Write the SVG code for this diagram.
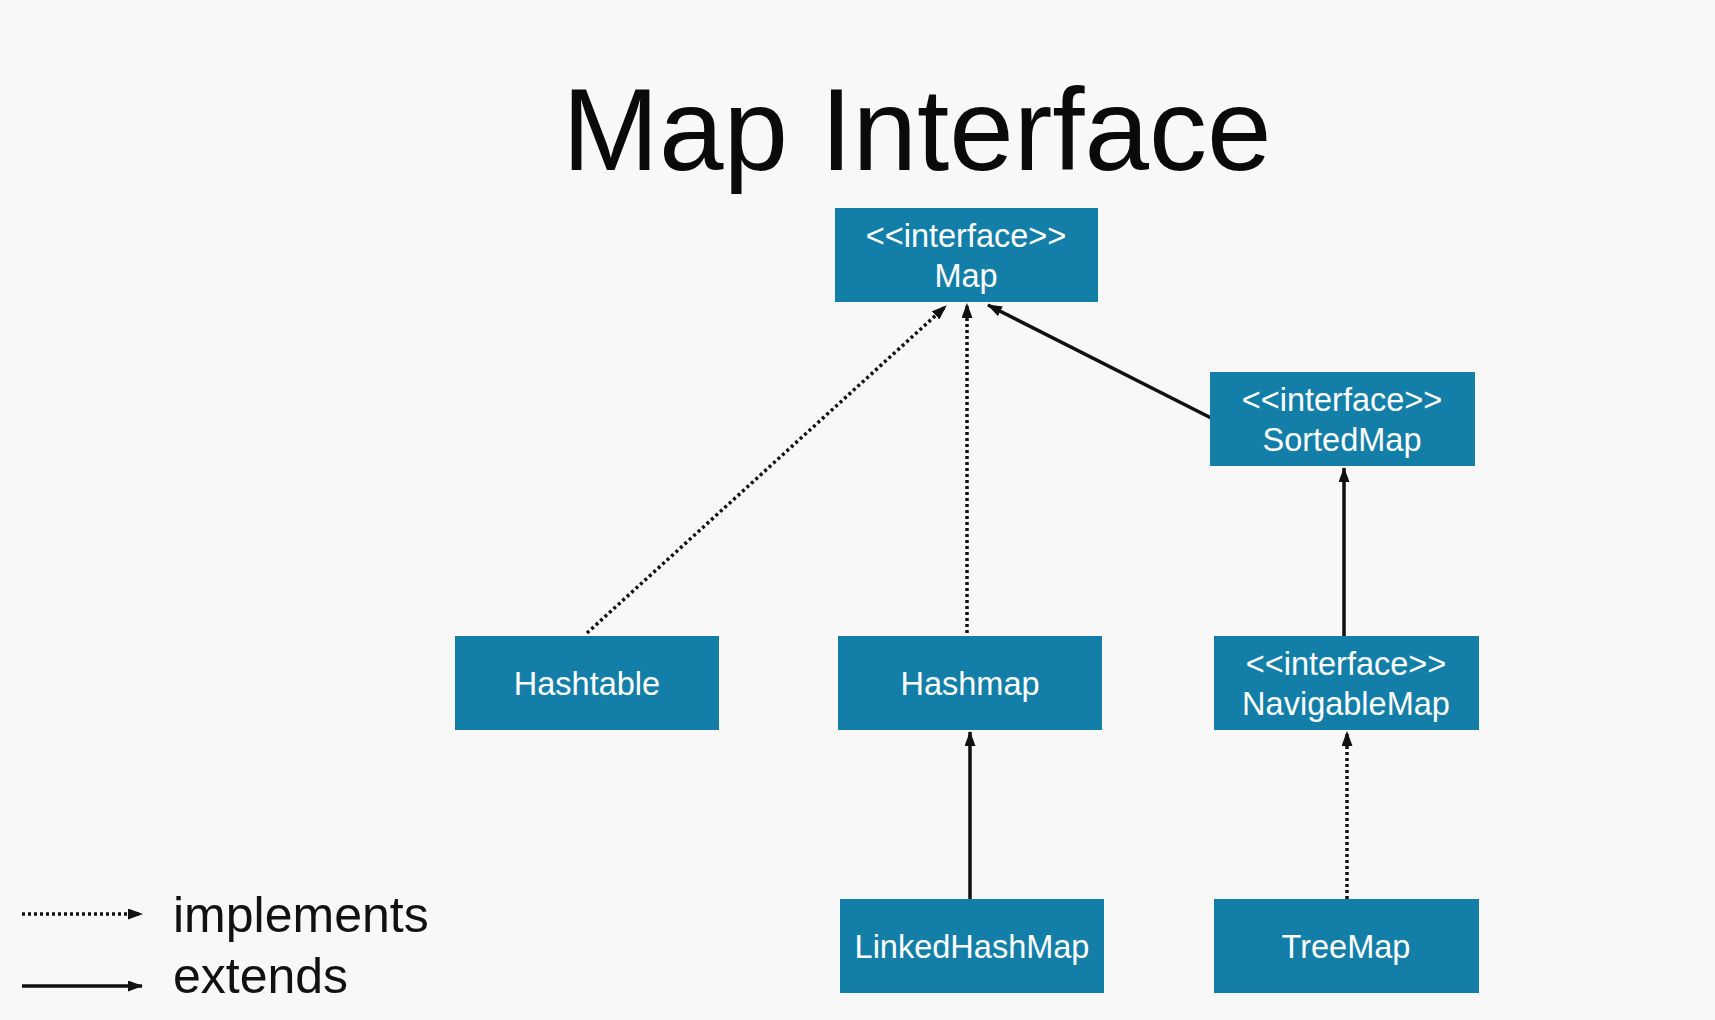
<svg xmlns="http://www.w3.org/2000/svg" width="1715" height="1020" viewBox="0 0 1715 1020">
<defs>
<style>
.box{fill:#137fa8;}
.lbl{fill:#ffffff;font-family:"Liberation Sans",Arial,sans-serif;font-size:32.5px;text-anchor:middle;}
.ext{stroke:#111;stroke-width:3.5;fill:none;}
.imp{stroke:#111;stroke-width:3.5;fill:none;stroke-dasharray:3 3;}
.title{font-family:"Liberation Sans",Arial,sans-serif;font-size:116px;fill:#0a0a0a;text-anchor:middle;}
.leg{font-family:"Liberation Sans",Arial,sans-serif;font-size:50px;fill:#111;}
</style>
<marker id="ah" markerWidth="15" markerHeight="11" refX="14" refY="5.5" orient="auto" markerUnits="userSpaceOnUse">
<path d="M0,0 L15,5.5 L0,11 Z" fill="#111"/>
</marker>
</defs>
<rect width="1715" height="1020" fill="#f8f8f8"/>
<text class="title" x="917" y="170">Map Interface</text>

<g id="connectors">
<line class="imp" x1="587" y1="633" x2="946" y2="306" marker-end="url(#ah)"/>
<line class="imp" x1="967" y1="633" x2="967" y2="304" marker-end="url(#ah)"/>
<line class="ext" x1="1223" y1="424" x2="988" y2="305" marker-end="url(#ah)"/>
<line class="ext" x1="1344" y1="636" x2="1344" y2="468" marker-end="url(#ah)"/>
<line class="ext" x1="970" y1="899" x2="970" y2="732" marker-end="url(#ah)"/>
<line class="imp" x1="1347" y1="899" x2="1347" y2="732" marker-end="url(#ah)"/>
</g>

<g id="map">
<rect class="box" x="835" y="208" width="263" height="94"/>
<text class="lbl" x="966" y="247">&lt;&lt;interface&gt;&gt;</text>
<text class="lbl" x="966" y="287">Map</text>
</g>
<g id="sortedmap">
<rect class="box" x="1210" y="372" width="265" height="94"/>
<text class="lbl" x="1342" y="411">&lt;&lt;interface&gt;&gt;</text>
<text class="lbl" x="1342" y="451">SortedMap</text>
</g>
<g id="hashtable">
<rect class="box" x="455" y="636" width="264" height="94"/>
<text class="lbl" x="587" y="695">Hashtable</text>
</g>
<g id="hashmap">
<rect class="box" x="838" y="636" width="264" height="94"/>
<text class="lbl" x="970" y="695">Hashmap</text>
</g>
<g id="navigablemap">
<rect class="box" x="1214" y="636" width="265" height="94"/>
<text class="lbl" x="1346" y="675">&lt;&lt;interface&gt;&gt;</text>
<text class="lbl" x="1346" y="715">NavigableMap</text>
</g>
<g id="linkedhashmap">
<rect class="box" x="840" y="899" width="264" height="94"/>
<text class="lbl" x="972" y="958">LinkedHashMap</text>
</g>
<g id="treemap">
<rect class="box" x="1214" y="899" width="265" height="94"/>
<text class="lbl" x="1346" y="958">TreeMap</text>
</g>

<g id="legend">
<line class="imp" x1="22" y1="914" x2="142" y2="914" marker-end="url(#ah)"/>
<line class="ext" x1="22" y1="986" x2="142" y2="986" marker-end="url(#ah)"/>
<text class="leg" x="173" y="932">implements</text>
<text class="leg" x="173" y="993">extends</text>
</g>
</svg>
